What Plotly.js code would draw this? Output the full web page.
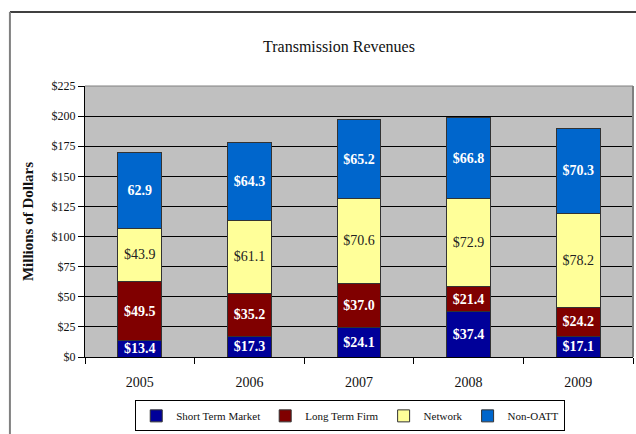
<!DOCTYPE html>
<html>
<head>
<meta charset="utf-8">
<script src="https://cdn.plot.ly/plotly-3.0.1.min.js"></script>
<style>html,body{margin:0;padding:0;background:#fff;}#chart{width:636px;height:434px;}</style>
</head>
<body>
<div id="chart"></div>
<script>
const years = ["2005", "2006", "2007", "2008", "2009"];
const shortTerm = [13.4, 17.3, 24.1, 37.4, 17.1];
const longTerm = [49.5, 35.2, 37.0, 21.4, 24.2];
const network = [43.9, 61.1, 70.6, 72.9, 78.2];
const nonOATT = [62.9, 64.3, 65.2, 66.8, 70.3];
const shortLabels = ["$13.4", "$17.3", "$24.1", "$37.4", "$17.1"];
const longLabels = ["$49.5", "$35.2", "$37.0", "$21.4", "$24.2"];
const networkLabels = ["$43.9", "$61.1", "$70.6", "$72.9", "$78.2"];
const nonOATTLabels = ["62.9", "$64.3", "$65.2", "$66.8", "$70.3"];
const yTickVals = [0, 25, 50, 75, 100, 125, 150, 175, 200, 225];
const yTickText = ["$0", "$25", "$50", "$75", "$100", "$125", "$150", "$175", "$200", "$225"];

const serif = "Liberation Serif, Times New Roman, serif";

function mk(name, y, text, color, tcolor, bold) {
  return {
    type: "bar", name: name, x: years, y: y, text: text,
    textposition: "inside", insidetextanchor: "middle", textangle: 0,
    constraintext: "none",
    textfont: {family: serif, size: 14, color: tcolor, weight: bold ? "bold" : "normal"},
    marker: {color: color, line: {color: "#333333", width: 1}},
    hoverinfo: "skip"
  };
}

const data = [
  mk("Short Term Market", shortTerm, shortLabels, "#000099", "#ffffff", true),
  mk("Long Term Firm", longTerm, longLabels, "#800000", "#ffffff", true),
  mk("Network", network, networkLabels, "#FFFF99", "#222222", false),
  mk("Non-OATT", nonOATT, nonOATTLabels, "#0066CC", "#ffffff", true)
];

const layout = {
  width: 636, height: 434,
  margin: {l: 85, r: 3, t: 86, b: 77, autoexpand: false},
  paper_bgcolor: "#ffffff",
  plot_bgcolor: "#C0C0C0",
  barmode: "stack",
  bargap: 0.6,
  showlegend: true,
  title: {text: "Transmission Revenues", x: 0.533, xanchor: "center", y: 0.893, yanchor: "middle",
          font: {family: serif, size: 16, color: "#111111"}},
  xaxis: {
    type: "category",
    tickson: "boundaries",
    ticks: "outside", ticklen: 6, tickcolor: "#000", tickwidth: 1,
    showline: true, linecolor: "#000", linewidth: 1,
    showgrid: false,
    ticklabelstandoff: 12,
    tickfont: {family: serif, size: 14, color: "#111"},
    fixedrange: true
  },
  yaxis: {
    range: [0, 225],
    tickvals: yTickVals, ticktext: yTickText,
    ticks: "outside", ticklen: 6, tickcolor: "#000",
    showline: true, linecolor: "#000", linewidth: 1,
    showgrid: true, gridcolor: "#000000", gridwidth: 1,
    zeroline: false,
    tickfont: {family: serif, size: 12, color: "#111"},
    title: {text: "Millions of Dollars", standoff: 14, font: {family: serif, size: 15, color: "#111", weight: "bold"}},
    fixedrange: true
  },
  legend: {
    orientation: "h", x: 0.484, xanchor: "center", y: -0.16, yanchor: "top",
    bordercolor: "#000", borderwidth: 1, bgcolor: "#fff",
    traceorder: "normal",
    font: {family: serif, size: 11, color: "#111"},
    itemwidth: 30, tracegroupgap: 0
  },
  shapes: [
    {type: "line", xref: "paper", yref: "paper", x0: -0.137, x1: 1.1, y0: 1.273, y1: 1.273, line: {color: "#000", width: 1.5}},
    {type: "line", xref: "paper", yref: "paper", x0: -0.137, x1: -0.137, y0: 1.273, y1: -0.35, line: {color: "#808080", width: 2}},
    {type: "line", xref: "paper", yref: "paper", x0: 1, x1: 1, y0: 0, y1: 1, line: {color: "#808080", width: 2}},
    {type: "line", xref: "paper", yref: "paper", x0: 0, x1: 1, y0: 1, y1: 1, line: {color: "#808080", width: 1}}
  ]
};

Plotly.newPlot("chart", data, layout, {displayModeBar: false, staticPlot: true});
</script>
</body>
</html>
